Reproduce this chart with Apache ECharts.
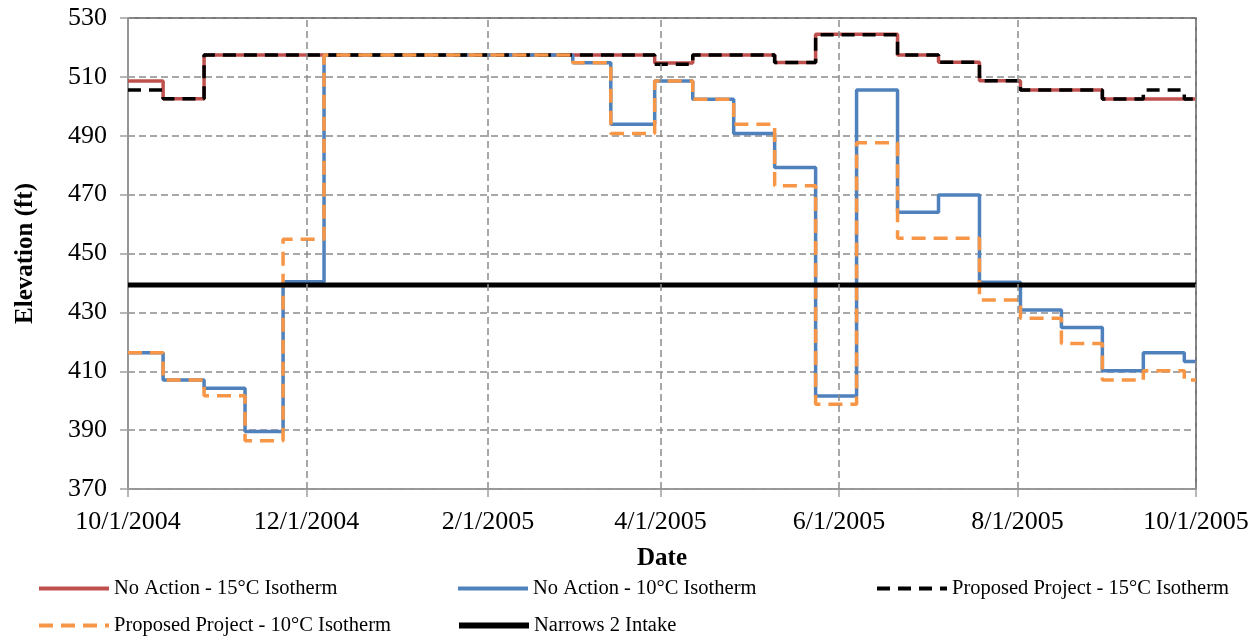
<!DOCTYPE html>
<html>
<head>
<meta charset="utf-8">
<script src="https://cdn.jsdelivr.net/npm/echarts@6/dist/echarts.min.js"></script>
<style>
  html, body { margin: 0; padding: 0; background: #fff; }
  #chart { width: 1260px; height: 636px; }
</style>
</head>
<body>
<div id="chart"></div>
<script>
// step dates (each value holds from its date until the next one)
var dates = ['2004-10-01', '2004-10-13', '2004-10-27', '2004-11-10', '2004-11-23', '2004-12-07',
    '2005-03-02', '2005-03-15', '2005-03-30', '2005-04-12', '2005-04-26', '2005-05-10',
    '2005-05-24', '2005-06-07', '2005-06-21', '2005-07-05', '2005-07-19', '2005-08-02',
    '2005-08-16', '2005-08-30', '2005-09-13', '2005-09-27', '2005-10-01'];

var noAction15 = [508.6, 502.6, 517.4, 517.4, 517.4, 517.4, 517.4, 517.4, 514.7, 517.4, 517.4, 514.9,
    524.5, 524.5, 517.4, 515.0, 508.7, 505.5, 505.5, 502.5, 502.5, 502.5, 502.5];
var noAction10 = [416.3, 407.0, 404.2, 389.5, 440.4, 517.4, 514.8, 493.9, 508.6, 502.4, 490.8, 479.2,
    401.6, 505.5, 464.0, 469.9, 440.2, 430.8, 424.9, 410.2, 416.3, 413.3, 413.3];
var proposed15 = [505.5, 502.6, 517.4, 517.4, 517.4, 517.4, 517.4, 517.4, 514.3, 517.4, 517.4, 514.9,
    524.3, 524.3, 517.4, 515.0, 508.7, 505.5, 505.5, 502.5, 505.5, 502.5, 502.5];
var proposed10 = [416.3, 407.0, 401.7, 386.4, 454.8, 517.4, 514.8, 490.8, 508.6, 502.4, 493.9, 473.0,
    398.8, 487.6, 455.2, 455.2, 434.2, 428.0, 419.4, 407.0, 410.2, 407.0, 407.0];
var narrowsIntake = 439.3;

var tickDates = ['2004-10-01', '2004-12-01', '2005-02-01', '2005-04-01', '2005-06-01', '2005-08-01', '2005-10-01'];
var names = ['No Action - 15°C Isotherm', 'No Action - 10°C Isotherm', 'Proposed Project - 15°C Isotherm',
    'Proposed Project - 10°C Isotherm', 'Narrows 2 Intake'];

function toTime(s) {
    var p = s.split('-');
    return new Date(+p[0], +p[1] - 1, +p[2]).getTime();
}
function pairs(vals) {
    return dates.map(function (d, i) { return [toTime(d), vals[i]]; });
}

var serif = 'Liberation Serif, Times New Roman, serif';
var tickTimes = tickDates.map(toTime);
var start = toTime(dates[0]), end = toTime(dates[dates.length - 1]);

function legendAt(name, left, top, width) {
    return {
        data: [name],
        left: left,
        top: top,
        itemWidth: 70,
        itemHeight: 14,
        selectedMode: false,
        itemStyle: { opacity: 0 },
        lineStyle: { width: width },
        textStyle: { fontFamily: serif, fontSize: 20.5, color: '#000' }
    };
}

var gridLineStyle = { color: '#8c8c8c', width: 1.5, type: [7, 4] };

var option = {
    animation: false,
    backgroundColor: '#fff',
    grid: {
        left: 128, right: 64, top: 18, bottom: 147,
        show: true, borderColor: '#4d4d4d', borderWidth: 1.5, z: -1
    },
    legend: [
        legendAt(names[0], 32, 573, 4),
        legendAt(names[1], 451, 573, 4),
        legendAt(names[2], 870, 573, 4),
        legendAt(names[3], 32, 610, 4),
        legendAt(names[4], 451, 610, 6)
    ],
    xAxis: {
        type: 'value',
        min: start,
        max: end,
        name: 'Date',
        nameLocation: 'middle',
        nameGap: 57,
        nameTextStyle: { fontFamily: serif, fontSize: 25, fontWeight: 'bold', color: '#000' },
        axisLine: { show: true, lineStyle: { color: '#a0a0a0', width: 1.5 } },
        axisTick: { show: true, length: 8, customValues: tickTimes, lineStyle: { color: '#a0a0a0', width: 1.5 } },
        axisLabel: {
            customValues: tickTimes,
            margin: 20,
            fontFamily: serif, fontSize: 26, color: '#000',
            formatter: function (v) {
                var d = new Date(v);
                return (d.getMonth() + 1) + '/' + d.getDate() + '/' + d.getFullYear();
            }
        },
        splitLine: { show: false }
    },
    yAxis: {
        type: 'value',
        min: 370, max: 530, interval: 20,
        name: 'Elevation (ft)',
        nameLocation: 'middle',
        nameGap: 90,
        nameTextStyle: { fontFamily: serif, fontSize: 25, fontWeight: 'bold', color: '#000' },
        axisLine: { show: true, lineStyle: { color: '#a0a0a0', width: 1.5 } },
        axisTick: { show: true, length: 8, lineStyle: { color: '#a0a0a0', width: 1.5 } },
        axisLabel: { margin: 21, fontFamily: serif, fontSize: 26, color: '#000' },
        splitLine: { show: true, lineStyle: gridLineStyle }
    },
    series: [{
        // vertical grid lines on the date ticks
        name: 'vgrid',
        type: 'line',
        data: [],
        silent: true,
        markLine: {
            silent: true,
            symbol: 'none',
            label: { show: false },
            lineStyle: gridLineStyle,
            data: tickTimes.slice(1).map(function (t) { return { xAxis: t }; })
        }
    }, {
        name: names[0],
        type: 'line',
        step: 'end',
        symbol: 'none',
        color: '#C0504D',
        lineStyle: { color: '#C0504D', width: 3.5 },
        data: pairs(noAction15)
    }, {
        name: names[1],
        type: 'line',
        step: 'end',
        symbol: 'none',
        color: '#4F81BD',
        lineStyle: { color: '#4F81BD', width: 3.5 },
        data: pairs(noAction10)
    }, {
        name: names[2],
        type: 'line',
        step: 'end',
        symbol: 'none',
        color: '#000',
        lineStyle: { color: '#000', width: 3.5, type: [13, 8] },
        data: pairs(proposed15)
    }, {
        name: names[3],
        type: 'line',
        step: 'end',
        symbol: 'none',
        color: '#F79646',
        lineStyle: { color: '#F79646', width: 3.5, type: [14, 8] },
        data: pairs(proposed10)
    }, {
        name: names[4],
        type: 'line',
        symbol: 'none',
        color: '#000',
        lineStyle: { color: '#000', width: 5 },
        data: [[start, narrowsIntake], [end, narrowsIntake]]
    }]
};

var chart = echarts.init(document.getElementById('chart'));
chart.setOption(option);
</script>
</body>
</html>
